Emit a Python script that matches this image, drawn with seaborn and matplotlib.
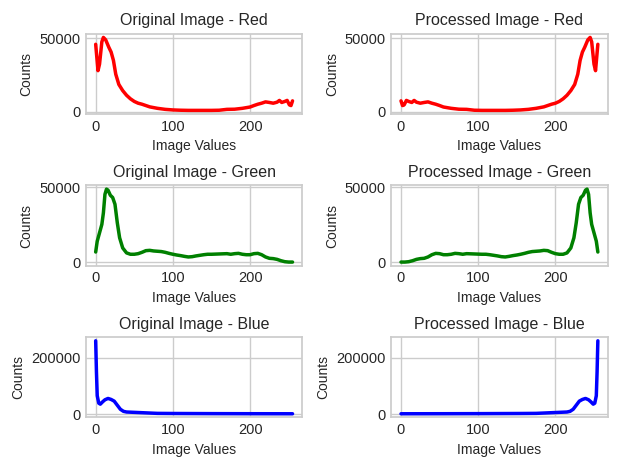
import matplotlib
matplotlib.use("Agg")
import matplotlib.pyplot as plt
import seaborn as sns

sns.set_theme(style="whitegrid")
plt.rcParams['font.family'] = ['Liberation Sans', 'DejaVu Sans']

# ---- histogram values ----
red_orig_x = [0, 3, 5, 8, 10, 13, 17, 20, 23, 26, 30, 35, 40, 45, 50, 55, 60, 65, 70, 80, 90,
              100, 110, 120, 130, 140, 150, 160, 170, 180, 190, 200, 205, 210, 215, 220, 225,
              230, 235, 238, 241, 245, 248, 251, 253, 255]
red_orig = [46000, 28000, 32500, 47700, 50700, 49000, 44000, 40700, 35000, 25600, 18600, 14400,
            11200, 8800, 7000, 5800, 5100, 4200, 3300, 2300, 1600, 1200, 1000, 900, 900, 900, 900,
            1000, 1600, 1700, 2300, 3200, 4200, 5100, 5800, 6700, 6300, 5800, 6500, 7700, 6300,
            7000, 7700, 4600, 4200, 7400]

red_proc_x = [0, 2, 4, 7, 10, 14, 17, 20, 25, 30, 35, 40, 45, 50, 55, 65, 75, 85, 95, 105, 115,
              125, 135, 145, 155, 165, 175, 185, 190, 195, 200, 205, 210, 215, 220, 225, 229, 232,
              235, 238, 242, 245, 247, 250, 252, 255]
red_proc = [7400, 4200, 4600, 7700, 7000, 6300, 7700, 6500, 5800, 6300, 6700, 5800, 5100, 4200,
            3200, 2300, 1700, 1600, 1000, 900, 900, 900, 900, 1000, 1200, 1600, 2300, 3300, 4200,
            5100, 5800, 7000, 8800, 11200, 14400, 18600, 25600, 35000, 40700, 44000, 49000, 50700,
            47700, 32500, 28000, 46000]

green_orig_x = [0, 2, 5, 8, 10, 12, 14, 16, 19, 22, 25, 28, 31, 35, 40, 45, 50, 55, 60, 65, 70,
                75, 80, 85, 90, 95, 100, 105, 110, 115, 120, 125, 130, 135, 140, 145, 150, 160,
                170, 175, 180, 185, 190, 195, 200, 205, 210, 215, 220, 225, 230, 235, 240, 245,
                250, 255]
green_orig = [6900, 14100, 19700, 25300, 33000, 45300, 48800, 48100, 44700, 43200, 38700, 26400,
              16400, 9600, 6300, 5400, 5400, 5800, 6700, 7800, 8000, 7600, 7400, 7200, 6700, 6000,
              5400, 4900, 4500, 4000, 3600, 3800, 4300, 4700, 5100, 5400, 5400, 5600, 5800, 5400,
              5800, 6000, 5400, 5100, 5100, 5800, 6000, 5100, 3600, 2700, 2500, 2000, 1100, 450,
              200, 200]

green_proc_x = [0, 5, 10, 15, 20, 25, 30, 35, 40, 45, 50, 55, 60, 65, 70, 75, 80, 85, 95, 105,
                110, 115, 120, 125, 130, 135, 140, 145, 150, 155, 160, 165, 170, 175, 180, 185,
                190, 195, 200, 205, 210, 215, 220, 224, 227, 230, 233, 236, 239, 241, 243, 245,
                247, 250, 253, 255]
green_proc = [200, 200, 450, 1100, 2000, 2500, 2700, 3600, 5100, 6000, 5800, 5100, 5100, 5400,
              6000, 5800, 5400, 5800, 5600, 5400, 5400, 5100, 4700, 4300, 3800, 3600, 4000, 4500,
              4900, 5400, 6000, 6700, 7200, 7400, 7600, 8000, 7800, 6700, 5800, 5400, 5400, 6300,
              9600, 16400, 26400, 38700, 43200, 44700, 48100, 48800, 45300, 33000, 25300, 19700,
              14100, 6900]

blue_orig_x = [0, 1, 2, 4, 6, 9, 12, 16, 20, 24, 28, 32, 36, 40, 50, 60, 70, 80, 100, 150, 200, 255]
blue_orig = [260000, 149000, 65000, 38600, 35000, 43400, 50600, 55400, 51800, 45800, 31300, 16900,
             9600, 7200, 6000, 4800, 3600, 2400, 2000, 1500, 1200, 1000]

blue_proc_x = [0, 55, 105, 155, 175, 185, 195, 205, 215, 219, 223, 227, 231, 235, 239, 243, 246,
               249, 251, 253, 254, 255]
blue_proc = [1000, 1200, 1500, 2000, 2400, 3600, 4800, 6000, 7200, 9600, 16900, 31300, 45800,
             51800, 55400, 50600, 43400, 35000, 38600, 65000, 149000, 260000]

channels = ["Red", "Green", "Blue"]
colors = ["red", "green", "blue"]
y_ticks = [[0, 50000], [0, 50000], [0, 200000]]
x_ticks = [0, 100, 200]
orig = [(red_orig_x, red_orig), (green_orig_x, green_orig), (blue_orig_x, blue_orig)]
proc = [(red_proc_x, red_proc), (green_proc_x, green_proc), (blue_proc_x, blue_proc)]

fig, axes = plt.subplots(3, 2, figsize=(6.22, 4.69), dpi=100)

for i, ch in enumerate(channels):
    for j, (name, data) in enumerate([("Original", orig[i]), ("Processed", proc[i])]):
        ax = axes[i, j]
        sns.lineplot(x=data[0], y=data[1], color=colors[i], linewidth=2.5, ax=ax)
        ax.set_title(f"{name} Image - {ch}", fontsize=11.5, color=".15")
        ax.set_xlabel("Image Values", fontsize=10, color=".15")
        ax.set_ylabel("Counts", fontsize=10, color=".15")
        ax.tick_params(labelsize=10.5, colors=".15", length=0, pad=4)
        ax.set_xticks(x_ticks)
        ax.set_yticks(y_ticks[i])

fig.subplots_adjust(left=0.138, right=0.977, top=0.928, bottom=0.110, hspace=0.89, wspace=0.41)
plt.savefig("out.png", dpi=100)
